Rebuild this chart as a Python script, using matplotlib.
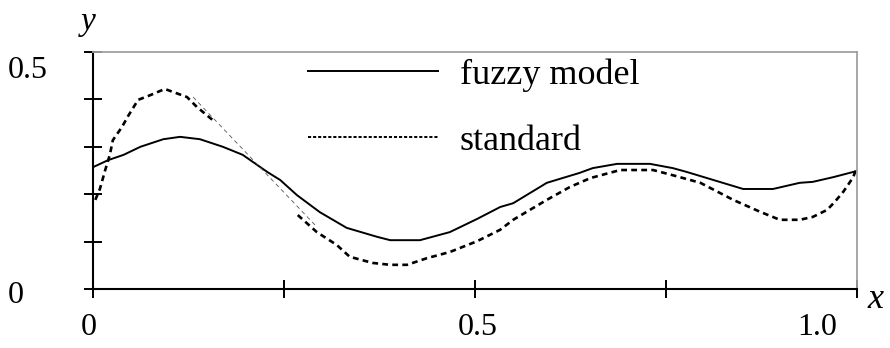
import numpy as np
import matplotlib
matplotlib.use("Agg")
import matplotlib.pyplot as plt

plt.rcParams['font.family'] = ['Liberation Serif', 'DejaVu Serif']

# fuzzy model curve (solid)
fuzzy_x = [0.000, 0.020, 0.040, 0.062, 0.092, 0.114, 0.140, 0.170, 0.196, 0.228,
           0.245, 0.267, 0.297, 0.332, 0.372, 0.389, 0.428, 0.467, 0.503, 0.533,
           0.550, 0.594, 0.637, 0.654, 0.686, 0.729, 0.759, 0.777, 0.851, 0.890,
           0.925, 0.942, 0.969, 1.000]
fuzzy_y = [0.257, 0.272, 0.283, 0.300, 0.316, 0.321, 0.316, 0.300, 0.283, 0.247,
           0.230, 0.198, 0.162, 0.129, 0.110, 0.103, 0.103, 0.120, 0.148, 0.173,
           0.181, 0.224, 0.245, 0.255, 0.264, 0.264, 0.255, 0.247, 0.211, 0.211,
           0.224, 0.226, 0.236, 0.249]

# standard curve (dashed), nan = gap in the thick line
standard_x = [0.003, 0.009, 0.016, 0.022, 0.026, 0.038, 0.046, 0.059, 0.075, 0.094,
              0.123, 0.136, 0.160, 0.200, 0.268, 0.293, 0.319, 0.336, 0.366, 0.389,
              0.411, 0.437, 0.467, 0.503, 0.533, 0.550, 0.594, 0.624, 0.651, 0.690,
              0.733, 0.759, 0.795, 0.838, 0.873, 0.899, 0.925, 0.942, 0.961, 0.971,
              0.982, 0.988, 0.995, 1.000]
standard_y = [0.188, 0.211, 0.251, 0.283, 0.314, 0.342, 0.365, 0.399, 0.409, 0.422,
              0.405, 0.384, 0.352, np.nan, 0.156, 0.120, 0.093, 0.068, 0.055, 0.051,
              0.051, 0.065, 0.078, 0.101, 0.125, 0.146, 0.188, 0.215, 0.234, 0.251,
              0.251, 0.240, 0.224, 0.188, 0.163, 0.146, 0.146, 0.152, 0.167, 0.184,
              0.205, 0.219, 0.236, 0.257]

# thin dashed bridge across the gap
bridge_x = [0.131, 0.293]
bridge_y = [0.405, 0.131]

x_ticks = [0, 0.25, 0.5, 0.75, 1.0]
y_ticks = [0, 0.1, 0.2, 0.3, 0.4, 0.5]

fig = plt.figure(figsize=(8.9, 3.48), dpi=100)
ax = fig.add_axes([93 / 890, 59 / 348, 764 / 890, 237 / 348])

ax.plot(fuzzy_x, fuzzy_y, color='black', lw=1.4, label='fuzzy model')
ax.plot(standard_x, standard_y, color='black', lw=1.9,
        linestyle=(0, (2.2, 1.6)), label='standard')
ax.plot(bridge_x, bridge_y, color='#555555', lw=0.6, linestyle=(0, (5, 4)))

ax.set_xlim(0, 1)
ax.set_ylim(0, 0.5)
ax.set_xticks(x_ticks)
ax.set_yticks(y_ticks)
ax.set_xticklabels([])
ax.set_yticklabels([])
ax.tick_params(direction='inout', length=13, width=1.4, color='black')
for t in ax.xaxis.get_major_ticks() + ax.yaxis.get_major_ticks():
    t.tick1line.set_clip_on(False)

for side in ['left', 'bottom']:
    ax.spines[side].set_linewidth(1.5)
    ax.spines[side].set_color('black')
for side in ['top', 'right']:
    ax.spines[side].set_linewidth(1.3)
    ax.spines[side].set_color('#a0a0a0')

# axis numbers
num_fs = 23
ax.text(-0.112, 0.462, '0.5', fontsize=num_fs, ha='left', va='center')
ax.text(-0.112, -0.013, '0', fontsize=num_fs, ha='left', va='center')
ax.text(-0.005, -0.082, '0', fontsize=num_fs, ha='center', va='center')
ax.text(0.503, -0.082, '0.5', fontsize=num_fs, ha='center', va='center')
ax.text(0.948, -0.082, '1.0', fontsize=num_fs, ha='center', va='center')
ax.text(-0.006, 0.563, 'y', fontsize=24, style='italic', ha='center', va='center')
ax.text(1.024, -0.023, 'x', fontsize=26, style='italic', ha='center', va='center')

leg = ax.legend(loc='upper left', bbox_to_anchor=(308 / 890, 1 - 58 / 348),
                bbox_transform=fig.transFigure, frameon=False, fontsize=26,
                handlelength=3.6, handletextpad=0.6, labelspacing=0.92,
                borderpad=0, borderaxespad=0)
leg.legend_handles[1].set_linestyle((0, (1.6, 1.0)))
leg.legend_handles[1].set_linewidth(1.4)

fig.savefig('out.png', dpi=100)
